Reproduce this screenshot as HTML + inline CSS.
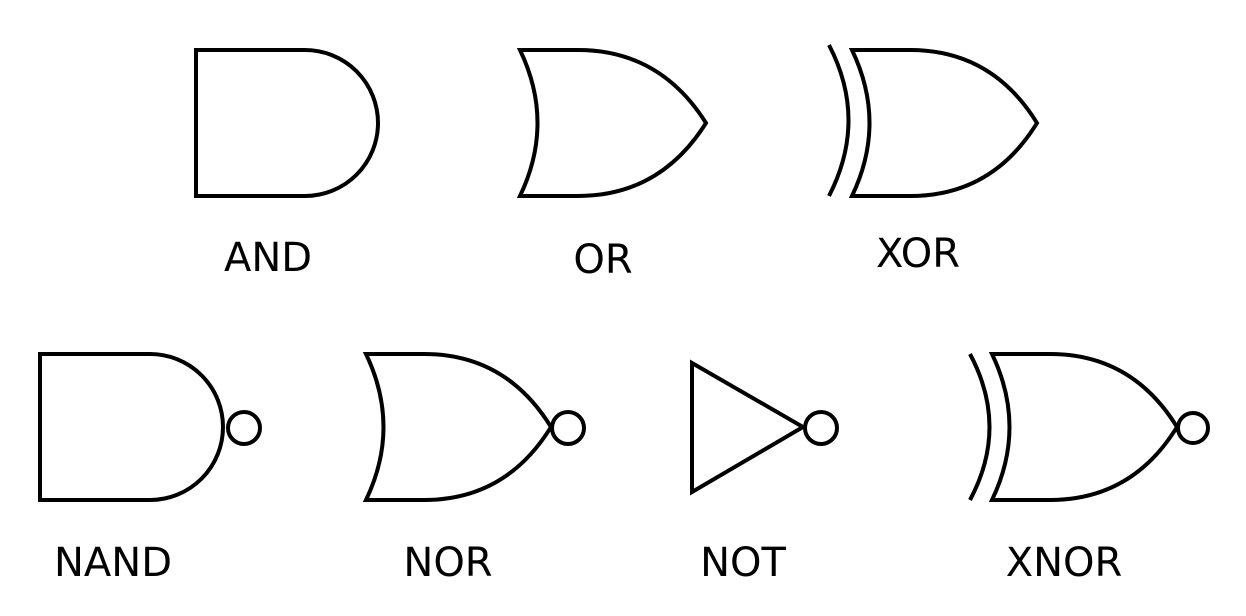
<!DOCTYPE html>
<html><head><meta charset="utf-8"><style>
html,body{margin:0;padding:0;background:#fff;}
svg{display:block;}
text{font-family:"DejaVu Sans","Liberation Sans",sans-serif;font-size:40px;fill:#000;text-anchor:middle;}
.g{fill:none;stroke:#000;stroke-width:4;stroke-linejoin:miter;}
</style></head><body>
<svg width="1246" height="616" viewBox="0 0 1246 616">
<g>
<path class="g" d="M196,50 L305,50 A73,73 0 0 1 305,196 L196,196 Z"/>
<text x="268" y="271">AND</text>
</g>
<g>
<path class="g" d="M520,50 L578,50 Q660,50 706,123 Q660,196 578,196 L520,196 Q555,123 520,50 Z"/>
<text x="603" y="273">OR</text>
</g>
<g>
<path class="g" d="M829,45 Q868,120 829,196"/>
<path class="g" d="M852,50 L910,50 Q992,50 1037,123 Q992,196 910,196 L852,196 Q887,123 852,50 Z"/>
<text x="918" y="267">XOR</text>
</g>
<g>
<path class="g" d="M40,354 L150,354 A73,73 0 0 1 150,500 L40,500 Z"/>
<circle class="g" cx="244" cy="428" r="16"/>
<text x="113" y="576">NAND</text>
</g>
<g>
<path class="g" d="M366,354 L424,354 Q506,354 551,427 Q506,500 424,500 L366,500 Q401,427 366,354 Z"/>
<circle class="g" cx="568" cy="428" r="16"/>
<text x="448" y="576">NOR</text>
</g>
<g>
<path class="g" d="M692,363 L803,427 L692,492 Z"/>
<circle class="g" cx="821" cy="428" r="16"/>
<text x="743" y="576">NOT</text>
</g>
<g>
<path class="g" d="M970,354 Q1009,427 970,500"/>
<path class="g" d="M992,354 L1050,354 Q1132,354 1177,427 Q1132,500 1050,500 L992,500 Q1027,427 992,354 Z"/>
<circle class="g" cx="1193" cy="428" r="15"/>
<text x="1064" y="576">XNOR</text>
</g>
</svg>
</body></html>
